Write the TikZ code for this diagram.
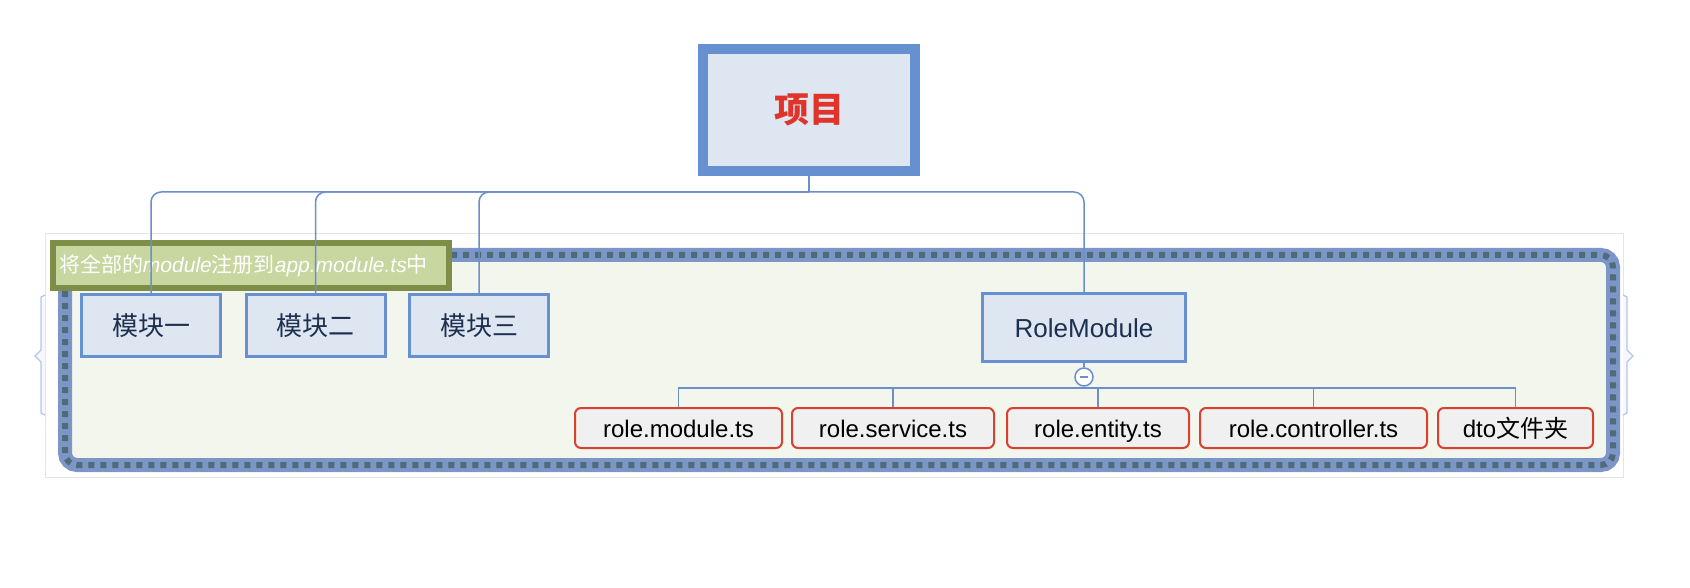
\documentclass[tikz,border=0pt]{standalone}
\usepackage{fontspec}
\setmainfont{Liberation Sans}
\newfontfamily\cjk{Noto Sans CJK SC}
\usepackage{tikz}

\definecolor{linkblue}{HTML}{6B8FC9}
\definecolor{boxblue}{HTML}{6690CF}
\definecolor{boxfill}{HTML}{DEE6F1}
\definecolor{projred}{HTML}{E0342A}
\definecolor{navy}{HTML}{1E3050}
\definecolor{filered}{HTML}{D8402F}
\definecolor{filefill}{HTML}{F0F0F0}
\definecolor{groupfill}{HTML}{F3F6EC}
\definecolor{bandblue}{HTML}{7D96C8}
\definecolor{dashdark}{HTML}{4F6A78}
\definecolor{tagfill}{HTML}{C8D6A0}
\definecolor{tagline}{HTML}{7E8E46}
\definecolor{tabblue}{HTML}{B3C6EA}

\begin{document}
\begin{tikzpicture}[x=1pt,y=-1pt,
	modbox/.style={draw=boxblue,fill=boxfill,line width=3pt,minimum width=139pt,minimum height=62pt,inner sep=0pt,text height=23pt,text depth=3pt,text=navy,font=\fontsize{26}{30}\selectfont},
	filebox/.style={draw=filered,fill=filefill,line width=2pt,rounded corners=6pt,minimum height=40pt,inner sep=0pt,text height=21pt,text depth=3pt,font=\fontsize{24}{28}\selectfont},
	link/.style={draw=linkblue,line width=1.5pt},
	elbow/.style={to path={-| (\tikztotarget)}}]
	\useasboundingbox (0,0) rectangle (1690,588);
	
	% group frame
	\draw[draw=black!10,line width=1pt] (45,234) rectangle (1623,477);
	\draw[draw=bandblue,fill=groupfill,line width=14pt,rounded corners=12pt] (65,255) rectangle (1613,465);
	\draw[draw=dashdark,line width=6pt,dash pattern=on 6pt off 6pt,rounded corners=12pt] (65,255) rectangle (1613,465);
	\draw[draw=tabblue,fill=blue!3,line width=1.2pt] (45,295) -- (41,297) -- (41,350) -- (35,356) -- (41,362) -- (41,413) -- (45,415);
	\draw[draw=tabblue,fill=blue!3,line width=1.2pt] (1623,295) -- (1627,297) -- (1627,350) -- (1633,356) -- (1627,362) -- (1627,413) -- (1623,415);
	\node[draw=tagline,fill=tagfill,line width=6pt,text=white,text width=384pt,inner xsep=6pt,inner ysep=0pt,minimum height=45pt,align=left,font=\fontsize{21}{24}\selectfont] (tag) at (251,265.5) {{\cjk 将全部的}\textit{module}{\cjk 注册到}\textit{app.module.ts}{\cjk 中}};
	
	\node[draw=boxblue,fill=boxfill,line width=10pt,minimum width=212pt,minimum height=122pt,text=projred,font=\fontsize{35}{40}\selectfont\bfseries] (proj) at (809,110) {\cjk\bfseries 项目};
	\node[modbox] (m1) at (151,325.5) {\cjk 模块一};
	\node[modbox] (m2) at (315.5,325.5) {\cjk 模块二};
	\node[modbox] (m3) at (479,325.5) {\cjk 模块三};
	\node[modbox,minimum width=203pt,minimum height=68pt] (role) at (1084,327.5) {RoleModule};
	\node[shape=circle,draw=linkblue,fill=white,line width=1.5pt,minimum size=18pt,inner sep=0pt] (fold) at (1084,377) {};
	\draw[draw=linkblue,line width=1.5pt] ([xshift=-4pt]fold.center) -- ([xshift=4pt]fold.center);
	
	\node[filebox,minimum width=207pt] (f1) at (678.5,428) {role.module.ts};
	\node[filebox,minimum width=202pt] (f2) at (893,428) {role.service.ts};
	\node[filebox,minimum width=182pt] (f3) at (1098,428) {role.entity.ts};
	\node[filebox,minimum width=227pt] (f4) at (1313.5,428) {role.controller.ts};
	\node[filebox,minimum width=155pt] (f5) at (1515.5,428) {dto{\cjk 文件夹}};
	
	\coordinate (hub) at (809,192);
	\coordinate (fork) at (1084,388);
	
	\path [link]
	(proj.south) edge (hub)
	(role.south) edge (fold.north)
	(fold.south) edge (fork);
	
	\path [link,rounded corners=10pt]
	(hub) edge[elbow] (m1.north)
	(hub) edge[elbow] (m2.north)
	(hub) edge[elbow] (m3.north)
	(hub) edge[elbow] (role.north);
	
	\path [link]
	(fork) edge[elbow] (f1.north)
	(fork) edge[elbow] (f2.north)
	(fork) edge[elbow] (f3.north)
	(fork) edge[elbow] (f4.north)
	(fork) edge[elbow] (f5.north);
\end{tikzpicture}
\end{document}
